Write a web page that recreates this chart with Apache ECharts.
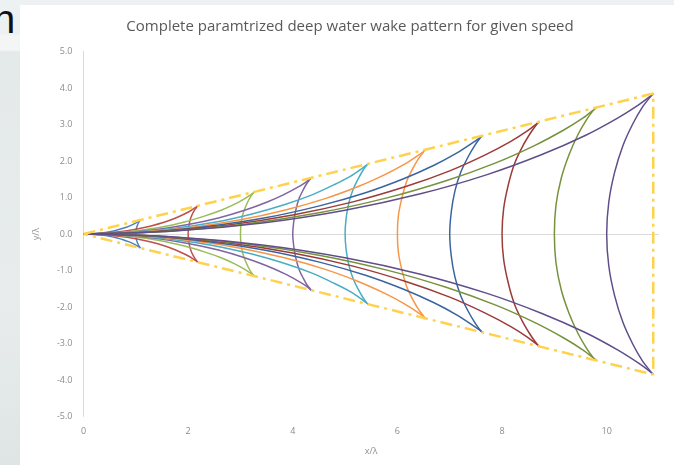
<!DOCTYPE html>
<html>
<head>
<meta charset="utf-8">
<script src="https://cdn.jsdelivr.net/npm/echarts@6/dist/echarts.min.js"></script>
<style>
html,body{margin:0;padding:0;width:674px;height:465px;overflow:hidden;}
body{background:linear-gradient(180deg,#eef1f1 0px,#eef1f1 34px,#f4f6f6 36px,#f4f6f6 50px,#e4e9ea 52px,#e8ecec 300px,#dfe5e5 465px);position:relative;}
#panel{position:absolute;left:20px;top:5px;width:654px;height:460px;background:#fff;}
#n{position:absolute;left:-7px;top:-1px;font-family:"Liberation Sans",Arial,sans-serif;font-size:40px;line-height:40px;color:#111;}
#chart{position:absolute;left:0;top:0;width:674px;height:465px;}
</style>
</head>
<body>
<div id="n">n</div>
<div id="panel"></div>
<div id="chart"></div>
<script>
// Each wave: upper divergent branch (origin -> cusp), null, transverse branch (cusp -> cusp), null, lower divergent branch (cusp -> origin)
const wave1 = [[0,0],[0.174,0.008],[0.342,0.030],[0.500,0.065],[0.644,0.110],[0.770,0.162],[0.875,0.217],[0.959,0.270],[1.020,0.317],[1.061,0.354],[1.083,0.377],[1.089,0.385], null,
  [1.089,0.385],[1.083,0.375],[1.068,0.347],[1.050,0.302],[1.031,0.241],[1.014,0.168],[1.004,0.086],[1.000,0],[1.004,-0.086],[1.014,-0.168],[1.031,-0.241],[1.050,-0.302],[1.068,-0.347],[1.083,-0.375],[1.089,-0.385], null,
  [1.089,-0.385],[1.083,-0.377],[1.061,-0.354],[1.020,-0.317],[0.959,-0.270],[0.875,-0.217],[0.770,-0.162],[0.644,-0.110],[0.500,-0.065],[0.342,-0.030],[0.174,-0.008],[0,0]];
const wave2 = [[0,0],[0.35,0.02],[0.68,0.06],[1.00,0.13],[1.29,0.22],[1.54,0.32],[1.75,0.43],[1.92,0.54],[2.04,0.63],[2.12,0.71],[2.17,0.75],[2.18,0.77], null,
  [2.18,0.77],[2.17,0.75],[2.14,0.69],[2.10,0.60],[2.06,0.48],[2.03,0.34],[2.01,0.17],[2.00,0],[2.01,-0.17],[2.03,-0.34],[2.06,-0.48],[2.10,-0.60],[2.14,-0.69],[2.17,-0.75],[2.18,-0.77], null,
  [2.18,-0.77],[2.17,-0.75],[2.12,-0.71],[2.04,-0.63],[1.92,-0.54],[1.75,-0.43],[1.54,-0.32],[1.29,-0.22],[1.00,-0.13],[0.68,-0.06],[0.35,-0.02],[0,0]];
const wave3 = [[0,0],[0.52,0.02],[1.03,0.09],[1.50,0.19],[1.93,0.33],[2.31,0.49],[2.63,0.65],[2.88,0.81],[3.06,0.95],[3.18,1.06],[3.25,1.13],[3.27,1.15], null,
  [3.27,1.15],[3.25,1.13],[3.20,1.04],[3.15,0.91],[3.09,0.72],[3.04,0.51],[3.01,0.26],[3.00,0],[3.01,-0.26],[3.04,-0.51],[3.09,-0.72],[3.15,-0.91],[3.20,-1.04],[3.25,-1.13],[3.27,-1.15], null,
  [3.27,-1.15],[3.25,-1.13],[3.18,-1.06],[3.06,-0.95],[2.88,-0.81],[2.63,-0.65],[2.31,-0.49],[1.93,-0.33],[1.50,-0.19],[1.03,-0.09],[0.52,-0.02],[0,0]];
const wave4 = [[0,0],[0.69,0.03],[1.37,0.12],[2.00,0.26],[2.58,0.44],[3.08,0.65],[3.50,0.87],[3.83,1.08],[4.08,1.27],[4.24,1.41],[4.33,1.51],[4.35,1.54], null,
  [4.35,1.54],[4.33,1.50],[4.27,1.39],[4.20,1.21],[4.12,0.97],[4.06,0.67],[4.02,0.35],[4.00,0],[4.02,-0.35],[4.06,-0.67],[4.12,-0.97],[4.20,-1.21],[4.27,-1.39],[4.33,-1.50],[4.35,-1.54], null,
  [4.35,-1.54],[4.33,-1.51],[4.24,-1.41],[4.08,-1.27],[3.83,-1.08],[3.50,-0.87],[3.08,-0.65],[2.58,-0.44],[2.00,-0.26],[1.37,-0.12],[0.69,-0.03],[0,0]];
const wave5 = [[0,0],[0.87,0.04],[1.71,0.15],[2.50,0.32],[3.22,0.55],[3.85,0.81],[4.38,1.08],[4.79,1.35],[5.10,1.58],[5.30,1.77],[5.41,1.89],[5.44,1.92], null,
  [5.44,1.92],[5.41,1.88],[5.34,1.74],[5.25,1.51],[5.15,1.21],[5.07,0.84],[5.02,0.43],[5.00,0],[5.02,-0.43],[5.07,-0.84],[5.15,-1.21],[5.25,-1.51],[5.34,-1.74],[5.41,-1.88],[5.44,-1.92], null,
  [5.44,-1.92],[5.41,-1.89],[5.30,-1.77],[5.10,-1.58],[4.79,-1.35],[4.38,-1.08],[3.85,-0.81],[3.22,-0.55],[2.50,-0.32],[1.71,-0.15],[0.87,-0.04],[0,0]];
const wave6 = [[0,0],[1.04,0.05],[2.05,0.18],[3.00,0.39],[3.86,0.66],[4.62,0.97],[5.25,1.30],[5.75,1.62],[6.12,1.90],[6.36,2.12],[6.50,2.26],[6.53,2.31], null,
  [6.53,2.31],[6.50,2.25],[6.41,2.08],[6.30,1.81],[6.18,1.45],[6.09,1.01],[6.02,0.52],[6.00,0],[6.02,-0.52],[6.09,-1.01],[6.18,-1.45],[6.30,-1.81],[6.41,-2.08],[6.50,-2.25],[6.53,-2.31], null,
  [6.53,-2.31],[6.50,-2.26],[6.36,-2.12],[6.12,-1.90],[5.75,-1.62],[5.25,-1.30],[4.62,-0.97],[3.86,-0.66],[3.00,-0.39],[2.05,-0.18],[1.04,-0.05],[0,0]];
const wave7 = [[0,0],[1.22,0.05],[2.39,0.21],[3.50,0.45],[4.51,0.77],[5.39,1.13],[6.13,1.52],[6.71,1.89],[7.14,2.22],[7.42,2.48],[7.58,2.64],[7.62,2.69], null,
  [7.62,2.69],[7.58,2.63],[7.48,2.43],[7.35,2.11],[7.21,1.69],[7.10,1.18],[7.03,0.61],[7.00,0],[7.03,-0.61],[7.10,-1.18],[7.21,-1.69],[7.35,-2.11],[7.48,-2.43],[7.58,-2.63],[7.62,-2.69], null,
  [7.62,-2.69],[7.58,-2.64],[7.42,-2.48],[7.14,-2.22],[6.71,-1.89],[6.13,-1.52],[5.39,-1.13],[4.51,-0.77],[3.50,-0.45],[2.39,-0.21],[1.22,-0.05],[0,0]];
const wave8 = [[0,0],[1.39,0.06],[2.74,0.24],[4.00,0.52],[5.15,0.88],[6.16,1.30],[7.00,1.73],[7.67,2.16],[8.16,2.53],[8.49,2.83],[8.66,3.02],[8.71,3.08], null,
  [8.71,3.08],[8.66,3.00],[8.55,2.78],[8.40,2.42],[8.24,1.93],[8.12,1.35],[8.03,0.69],[8.00,0],[8.03,-0.69],[8.12,-1.35],[8.24,-1.93],[8.40,-2.42],[8.55,-2.78],[8.66,-3.00],[8.71,-3.08], null,
  [8.71,-3.08],[8.66,-3.02],[8.49,-2.83],[8.16,-2.53],[7.67,-2.16],[7.00,-1.73],[6.16,-1.30],[5.15,-0.88],[4.00,-0.52],[2.74,-0.24],[1.39,-0.06],[0,0]];
const wave9 = [[0,0],[1.56,0.07],[3.08,0.27],[4.50,0.58],[5.80,0.99],[6.93,1.46],[7.88,1.95],[8.63,2.43],[9.18,2.85],[9.55,3.18],[9.74,3.39],[9.80,3.46], null,
  [9.80,3.46],[9.74,3.38],[9.61,3.12],[9.45,2.72],[9.28,2.17],[9.13,1.52],[9.03,0.78],[9.00,0],[9.03,-0.78],[9.13,-1.52],[9.28,-2.17],[9.45,-2.72],[9.61,-3.12],[9.74,-3.38],[9.80,-3.46], null,
  [9.80,-3.46],[9.74,-3.39],[9.55,-3.18],[9.18,-2.85],[8.63,-2.43],[7.88,-1.95],[6.93,-1.46],[5.80,-0.99],[4.50,-0.58],[3.08,-0.27],[1.56,-0.07],[0,0]];
const wave10 = [[0,0],[1.74,0.08],[3.42,0.30],[5.00,0.65],[6.44,1.10],[7.70,1.62],[8.75,2.17],[9.59,2.70],[10.20,3.17],[10.61,3.54],[10.83,3.77],[10.89,3.85], null,
  [10.89,3.85],[10.83,3.75],[10.68,3.47],[10.50,3.02],[10.31,2.42],[10.15,1.68],[10.04,0.87],[10.00,0],[10.04,-0.87],[10.15,-1.68],[10.31,-2.42],[10.50,-3.02],[10.68,-3.47],[10.83,-3.75],[10.89,-3.85], null,
  [10.89,-3.85],[10.83,-3.77],[10.61,-3.54],[10.20,-3.17],[9.59,-2.70],[8.75,-2.17],[7.70,-1.62],[6.44,-1.10],[5.00,-0.65],[3.42,-0.30],[1.74,-0.08],[0,0]];
// Envelope (Kelvin wedge) and closing line
const envelope = [[0,0],[10.89,3.85],[10.89,-3.85],[0,0]];

const xTicks = [0,2,4,6,8,10];
const yTicks = [-5,-4,-3,-2,-1,0,1,2,3,4,5];

const waves = [wave1,wave2,wave3,wave4,wave5,wave6,wave7,wave8,wave9,wave10];
const palette = ['#4F81BD','#C0504D','#9BBB59','#8064A2','#4BACC6','#F79646','#3A64A0','#9C3B39','#76923C','#5F4E8A'];

function splitPath(path){
  const segs=[[]];
  path.forEach(p=>{ if(p===null) segs.push([]); else segs[segs.length-1].push(p); });
  return segs;
}

const series = [];
waves.forEach((w,i)=>{
  splitPath(w).forEach(seg=>{
    series.push({
      type:'line', data:seg, smooth:0.3, showSymbol:false, silent:true,
      lineStyle:{color:palette[i], width:1.5}, itemStyle:{color:palette[i]}, z:3
    });
  });
});
series.push({
  type:'line', data:envelope, showSymbol:false, silent:true, z:4,
  lineStyle:{color:'#FFD24D', width:2.5, type:[12,5,3,5]},
  markLine:{silent:true, symbol:'none', label:{show:false},
    lineStyle:{color:'#D9D9D9', type:'solid', width:1},
    data:[{yAxis:0}], z:1}
});

const axisFont = {color:'#8C8C8C', fontSize:9, fontFamily:'"Open Sans", "Liberation Sans", sans-serif'};

const chart = echarts.init(document.getElementById('chart'), null, {renderer:'canvas'});
chart.setOption({
  backgroundColor:'transparent',
  animation:false,
  title:{
    text:'Complete paramtrized deep water wake pattern for given speed',
    left:345, top:14, textAlign:'center',
    textStyle:{color:'#595959', fontSize:15, fontWeight:'normal', fontFamily:'"Open Sans", "Liberation Sans", sans-serif'}
  },
  grid:{left:83.5, right:15, top:51.5, bottom:48.5},
  xAxis:{
    type:'value', min:0, max:11, interval:2,
    name:'x/λ', nameLocation:'middle', nameGap:30,
    nameTextStyle:axisFont,
    axisLine:{show:false}, axisTick:{show:false}, splitLine:{show:false},
    axisLabel:Object.assign({margin:10, formatter:v=>xTicks.indexOf(v)>=0?String(v):''}, axisFont)
  },
  yAxis:{
    type:'value', min:-5, max:5, interval:1,
    name:'y/λ', nameLocation:'middle', nameGap:43, nameRotate:90,
    nameTextStyle:axisFont,
    axisLine:{show:true, lineStyle:{color:'#D9D9D9', width:1}}, axisTick:{show:false}, splitLine:{show:false},
    axisLabel:Object.assign({margin:11, formatter:v=>yTicks.indexOf(v)>=0?v.toFixed(1):''}, axisFont)
  },
  series:series
});
</script>
</body>
</html>
